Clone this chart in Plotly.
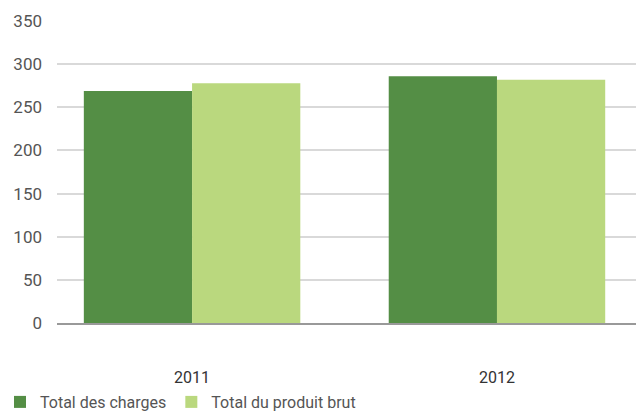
import plotly.graph_objects as go

years = ["2011", "2012"]
charges = [269, 286]
produit = [278, 282]
y_ticks = [0, 50, 100, 150, 200, 250, 300, 350]

fig = go.Figure()
fig.add_trace(go.Bar(x=years, y=charges, name="Total des charges", marker_color="#548E45", marker_line_width=0))
fig.add_trace(go.Bar(x=years, y=produit, name="Total du produit brut", marker_color="#BAD87E", marker_line_width=0))

fig.update_layout(
    width=636, height=419,
    margin=dict(l=57, r=0, t=21, b=96, autoexpand=False),
    plot_bgcolor="white", paper_bgcolor="white",
    barmode="group", bargap=0.29, bargroupgap=0,
    font=dict(family="Roboto", color="#555555", size=16),
    showlegend=True,
    legend=dict(orientation="h", xref="container", yref="container", x=-0.012, y=-0.018,
                xanchor="left", yanchor="bottom", font=dict(size=16, color="#555555"),
                bgcolor="rgba(0,0,0,0)", tracegroupgap=0, traceorder="normal", itemwidth=30),
)
fig.update_yaxes(range=[0, 350], tickvals=y_ticks, showgrid=True, gridcolor="#d9d9d9", gridwidth=1.5,
                 zeroline=False, ticks="", ticklabelstandoff=14, automargin=False,
                 tickfont=dict(size=17, color="#555555"))
fig.update_xaxes(range=[-0.443, 1.456], showline=True, linecolor="#999999", linewidth=1.5, ticks="",
                 ticklabelstandoff=39, automargin=False, tickfont=dict(size=16, color="#333333"))

fig.write_html("out.html", config={"displayModeBar": False},
               post_script="document.body.style.margin='0';document.body.style.overflow='hidden';")
